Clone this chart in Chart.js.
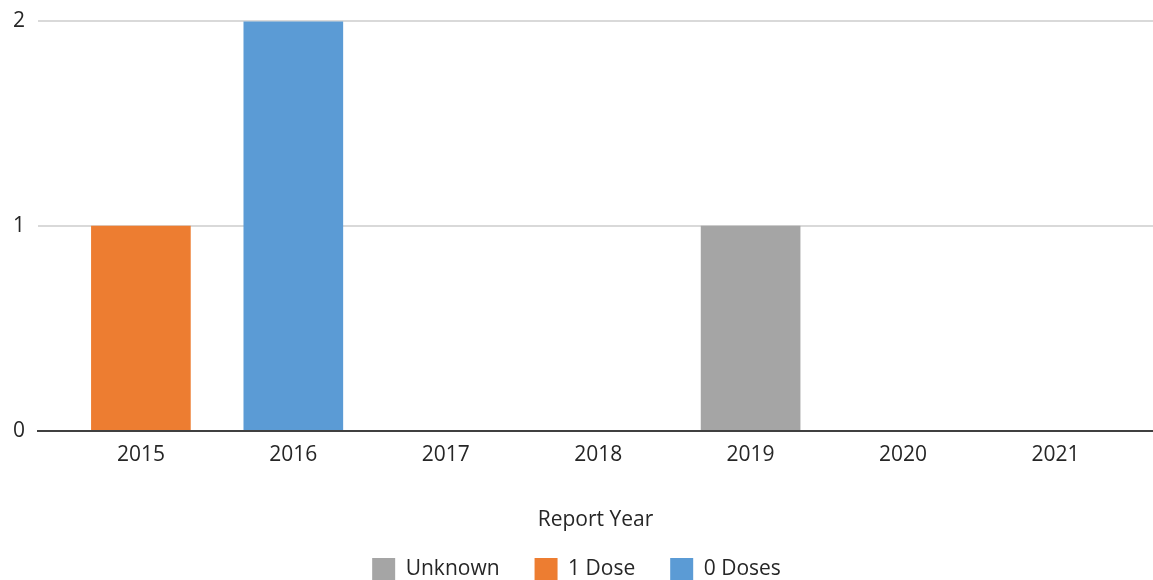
<!DOCTYPE html>
<html>
<head>
<meta charset="utf-8">
<script src="https://cdn.jsdelivr.net/npm/chart.js@4"></script>
<style>
  html, body { margin: 0; padding: 0; background: #fff; }
  #wrap { width: 1153px; height: 580px; }
</style>
</head>
<body>
<div id="wrap"><canvas id="myChart"></canvas></div>
<script>
const ctx = document.getElementById('myChart').getContext('2d');

const anios = ['2015', '2016', '2017', '2018', '2019', '2020', '2021'];
const unknown = [0, 0, 0, 0, 1, 0, 0];
const unaDosis = [1, 0, 0, 0, 0, 0, 0];
const ceroDosis = [0, 2, 0, 0, 0, 0, 0];
const yTicks = [0, 1, 2];

// bars sit on a numeric x axis so the plot can run wider than the year slots;
// empty years get no bar at all
const puntos = (serie) => serie.map((v, i) => ({ x: i, y: v === 0 ? null : v }));

Chart.defaults.font.family = '"Open Sans", sans-serif';
Chart.defaults.font.size = 21;
Chart.defaults.color = '#262626';

const myChart = new Chart(ctx, {
    type: 'bar',
    data: {
        datasets: [{
            label: 'Unknown',
            data: puntos(unknown),
            backgroundColor: '#A5A5A5'
        },
        {
            label: '1 Dose',
            data: puntos(unaDosis),
            backgroundColor: '#ED7D31'
        },
        {
            label: '0 Doses',
            data: puntos(ceroDosis),
            backgroundColor: '#5B9BD5'
        }]
    },
    options: {
        responsive: true,
        maintainAspectRatio: false,
        animation: false,
        layout: { padding: { top: 19, left: 0, right: 0, bottom: -11 } },
        datasets: { bar: { barThickness: 99 } },
        plugins: {
            tooltip: { enabled: false },
            legend: {
                position: 'bottom',
                labels: {
                    boxWidth: 23,
                    boxHeight: 23,
                    padding: 35,
                    color: '#262626'
                }
            }
        },
        scales: {
            x: {
                type: 'linear',
                stacked: true,
                offset: false,
                bounds: 'data',
                min: -0.675,
                max: 6.64,
                afterBuildTicks: (axis) => {
                    axis.ticks = anios.map((_, i) => ({ value: i }));
                },
                grid: { display: false, drawTicks: false, offset: false },
                border: { display: true, color: '#404040', width: 2 },
                ticks: {
                    padding: 12,
                    autoSkip: false,
                    maxRotation: 0,
                    callback: (v) => anios[v] || ''
                },
                title: {
                    display: true,
                    text: 'Report Year',
                    padding: { top: 28, bottom: -10 }
                }
            },
            y: {
                stacked: true,
                min: yTicks[0],
                max: yTicks[yTicks.length - 1],
                afterBuildTicks: (axis) => {
                    axis.ticks = yTicks.map((v) => ({ value: v }));
                },
                grid: { color: '#D9D9D9', lineWidth: 2, drawTicks: false },
                border: { display: false },
                ticks: { padding: 13, font: { lineHeight: 0.8 } }
            }
        }
    }
});
</script>
</body>
</html>
